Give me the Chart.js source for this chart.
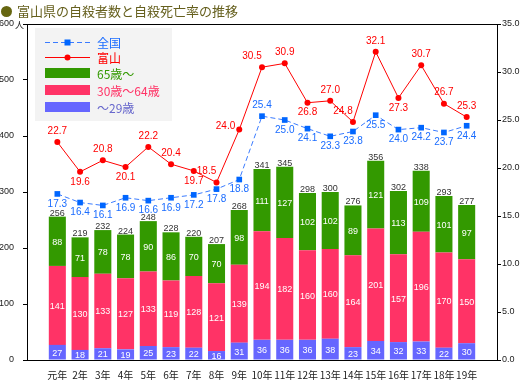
<!DOCTYPE html>
<html>
<head>
<meta charset="utf-8">
<script src="https://cdn.jsdelivr.net/npm/chart.js@4"></script>
<style>
  html, body { margin: 0; padding: 0; background: #fff; }
  #wrap { position: relative; width: 520px; height: 390px; }
  #title {
    position: absolute; left: 1px; top: 1px;
    font: 13px "Noto Sans CJK JP", sans-serif; color: #66601e; white-space: nowrap;
  }
  #title .dot { display: inline-block; width: 11px; height: 11px; border-radius: 50%; background: #666611; margin-right: 5px; vertical-align: -1px; }
</style>
</head>
<body>
<div id="wrap">
  <canvas id="chart" width="520" height="390"></canvas>
  <div id="title"><span class="dot"></span>富山県の自殺者数と自殺死亡率の推移</div>
</div>
<script>
// 年（平成）
const years = ['元年', '2年', '3年', '4年', '5年', '6年', '7年', '8年', '9年', '10年',
  '11年', '12年', '13年', '14年', '15年', '16年', '17年', '18年', '19年'];

// 年代別自殺者数（人）
const under29 = [27, 18, 21, 19, 25, 23, 22, 16, 31, 36, 36, 36, 38, 23, 34, 32, 33, 22, 30];
const age30to64 = [141, 130, 133, 127, 133, 119, 128, 121, 139, 194, 182, 160, 160, 164, 201, 157, 196, 170, 150];
const over65 = [88, 71, 78, 78, 90, 86, 70, 70, 98, 111, 127, 102, 102, 89, 121, 113, 109, 101, 97];

// 自殺死亡率（人口10万対）
const toyamaRate = [22.7, 19.6, 20.8, 20.1, 22.2, 20.4, 19.7, 18.5, 24.0, 30.5, 30.9, 26.8, 27.0, 24.8, 32.1, 27.3, 30.7, 26.7, 25.3];
const nationalRate = [17.3, 16.4, 16.1, 16.9, 16.6, 16.9, 17.2, 17.8, 18.8, 25.4, 25.0, 24.1, 23.3, 23.8, 25.5, 24.0, 24.2, 23.7, 24.4];

// ラベル位置 (t=上, b=下, tl=左上, l=左)
const toyamaLabelAt = ['t', 'b', 't', 'b', 't', 't', 'b', 'tl', 'l', 'tl', 't', 'b', 't', 'tl', 't', 'b', 't', 't', 't'];
const nationalLabelAt = ['b', 'b', 'b', 'b', 'b', 'b', 'b', 'b', 'b', 't', 'b', 'b', 'b', 'b', 'b', 'b', 'b', 'b', 'b'];

const GREEN = '#339900', PINK = '#ff3366', VIOLET = '#6666ff', RED = '#ff0000', BLUE = '#1a6cff';
const NUM_FONT = '"Liberation Sans", Arial, sans-serif';
const JP_FONT = '"Noto Sans CJK JP", sans-serif';

const xy = arr => arr.map((v, i) => ({ x: i, y: v }));

const offsets = { t: [0, -11], b: [0, 10], tl: [-10, -11], l: [-4, -3] };

const valueLabels = {
  id: 'valueLabels',
  afterDatasetsDraw(chart) {
    const ctx = chart.ctx;
    ctx.save();
    ctx.textAlign = 'center';
    ctx.textBaseline = 'middle';
    // 棒の中の人数
    ctx.font = '9px ' + NUM_FONT;
    ctx.fillStyle = '#fff';
    let topMeta = null;
    chart.data.datasets.forEach((ds, di) => {
      if (ds.type !== 'bar') return;
      const meta = chart.getDatasetMeta(di);
      topMeta = meta;
      meta.data.forEach((el, i) => {
        ctx.fillText(ds.data[i].y, el.x, (el.y + el.base) / 2 + 1);
      });
    });
    // 合計
    ctx.fillStyle = '#333';
    ctx.textBaseline = 'bottom';
    topMeta.data.forEach((el, i) => {
      ctx.fillText(under29[i] + age30to64[i] + over65[i], el.x, el.y + 1);
    });
    // 死亡率
    ctx.font = '10px ' + NUM_FONT;
    ctx.textBaseline = 'middle';
    chart.data.datasets.forEach((ds, di) => {
      if (ds.type !== 'line') return;
      const meta = chart.getDatasetMeta(di);
      const pos = ds.labelAt;
      ctx.fillStyle = ds.labelColor;
      meta.data.forEach((el, i) => {
        const [dx, dy] = offsets[pos[i]];
        ctx.textAlign = pos[i] === 'l' ? 'right' : 'center';
        ctx.fillText(ds.data[i].y.toFixed(1), el.x + dx, el.y + dy);
      });
    });
    ctx.restore();
  }
};

const frameAndLegend = {
  id: 'frameAndLegend',
  afterDraw(chart) {
    const ctx = chart.ctx;
    const a = chart.chartArea;
    ctx.save();
    // 上枠
    ctx.strokeStyle = '#000';
    ctx.lineWidth = 1;
    ctx.beginPath();
    ctx.moveTo(a.left, a.top + 0.5);
    ctx.lineTo(a.right, a.top + 0.5);
    ctx.stroke();
    // 単位
    const y600 = chart.scales.y.getPixelForValue(600);
    ctx.font = '9px ' + JP_FONT;
    ctx.fillStyle = '#222';
    ctx.textAlign = 'left';
    ctx.textBaseline = 'middle';
    ctx.fillText('人', 15, y600 + 1);

    // 凡例
    const lx = a.left + 8, ly = a.top + 4;
    ctx.fillStyle = '#f3f3f3';
    ctx.fillRect(lx, ly, 137, 93);
    const ds = chart.data.datasets;
    const items = [ds[4], ds[3], ds[2], ds[1], ds[0]];
    const rowY = [14, 29, 45, 62, 79];
    ctx.font = '12px ' + JP_FONT;
    items.forEach((d, k) => {
      const y = ly + rowY[k];
      const x0 = lx + 10, x1 = lx + 55;
      if (d.type === 'line') {
        ctx.strokeStyle = d.borderColor;
        ctx.lineWidth = 1;
        ctx.setLineDash(d.borderDash || []);
        ctx.beginPath();
        ctx.moveTo(x0, Math.round(y) + 0.5);
        ctx.lineTo(x1, Math.round(y) + 0.5);
        ctx.stroke();
        ctx.setLineDash([]);
        ctx.fillStyle = d.pointBackgroundColor;
        const xm = (x0 + x1) / 2;
        if (d.pointStyle === 'rect') {
          ctx.fillRect(xm - 3, y - 2.5, 6, 6);
        } else {
          ctx.beginPath();
          ctx.arc(xm, y + 0.5, 3, 0, Math.PI * 2);
          ctx.fill();
        }
      } else {
        ctx.fillStyle = d.backgroundColor;
        ctx.fillRect(x0, y - 5, x1 - x0, 10);
      }
      ctx.fillStyle = d.labelColor;
      ctx.fillText(d.label, lx + 62, y + 1);
    });
    ctx.restore();
  }
};

new Chart(document.getElementById('chart'), {
  type: 'bar',
  data: {
    datasets: [
      { type: 'bar', label: '～29歳', data: xy(under29), backgroundColor: VIOLET, labelColor: '#6666cc', yAxisID: 'y', stack: 'age', order: 1 },
      { type: 'bar', label: '30歳～64歳', data: xy(age30to64), backgroundColor: PINK, labelColor: PINK, yAxisID: 'y', stack: 'age', order: 1 },
      { type: 'bar', label: '65歳～', data: xy(over65), backgroundColor: GREEN, labelColor: GREEN, yAxisID: 'y', stack: 'age', order: 1 },
      { type: 'line', label: '富山', data: xy(toyamaRate), yAxisID: 'y2', order: 0,
        borderColor: RED, borderWidth: 1, pointStyle: 'circle', pointRadius: 3,
        pointBackgroundColor: RED, pointBorderColor: RED, pointBorderWidth: 0, labelColor: RED, labelAt: toyamaLabelAt },
      { type: 'line', label: '全国', data: xy(nationalRate), yAxisID: 'y2', order: 0,
        borderColor: '#3a7bff', borderWidth: 1, borderDash: [5, 3], pointStyle: 'rect', pointRadius: 4,
        pointBackgroundColor: '#0066ff', pointBorderColor: '#0066ff', pointBorderWidth: 0, labelColor: BLUE, labelAt: nationalLabelAt }
    ]
  },
  options: {
    responsive: false,
    animation: false,
    layout: { padding: { top: 24, left: 0, right: 0, bottom: 0 } },
    plugins: { legend: { display: false }, tooltip: { enabled: false } },
    datasets: { bar: { categoryPercentage: 1, barPercentage: 0.75 } },
    scales: {
      x: {
        type: 'linear',
        min: -0.79, max: 18.79,
        afterFit: s => { s.height = 30; },
        grid: { display: false, drawTicks: false },
        border: { color: '#000' },
        ticks: {
          stepSize: 1, includeBounds: false, autoSkip: false, maxRotation: 0, padding: 9,
          color: '#222', font: { size: 10, family: JP_FONT },
          callback: v => years[v] || ''
        }
      },
      y: {
        position: 'left',
        stacked: true,
        min: 0, max: 600,
        afterFit: s => { s.width = 27; },
        grid: { display: true, drawOnChartArea: false, drawTicks: true, tickLength: 4, color: '#000' },
        border: { color: '#000' },
        ticks: { stepSize: 100, padding: 9, color: '#222', font: { size: 9, family: NUM_FONT } }
      },
      y2: {
        position: 'right',
        min: 0, max: 35,
        afterFit: s => { s.width = 23; },
        grid: { display: true, drawOnChartArea: false, drawTicks: true, tickLength: 4, color: '#000' },
        border: { color: '#000' },
        ticks: { stepSize: 5, padding: 1, color: '#222', font: { size: 9, family: NUM_FONT },
          callback: v => v.toFixed(1) }
      }
    }
  },
  plugins: [valueLabels, frameAndLegend]
});
</script>
</body>
</html>
